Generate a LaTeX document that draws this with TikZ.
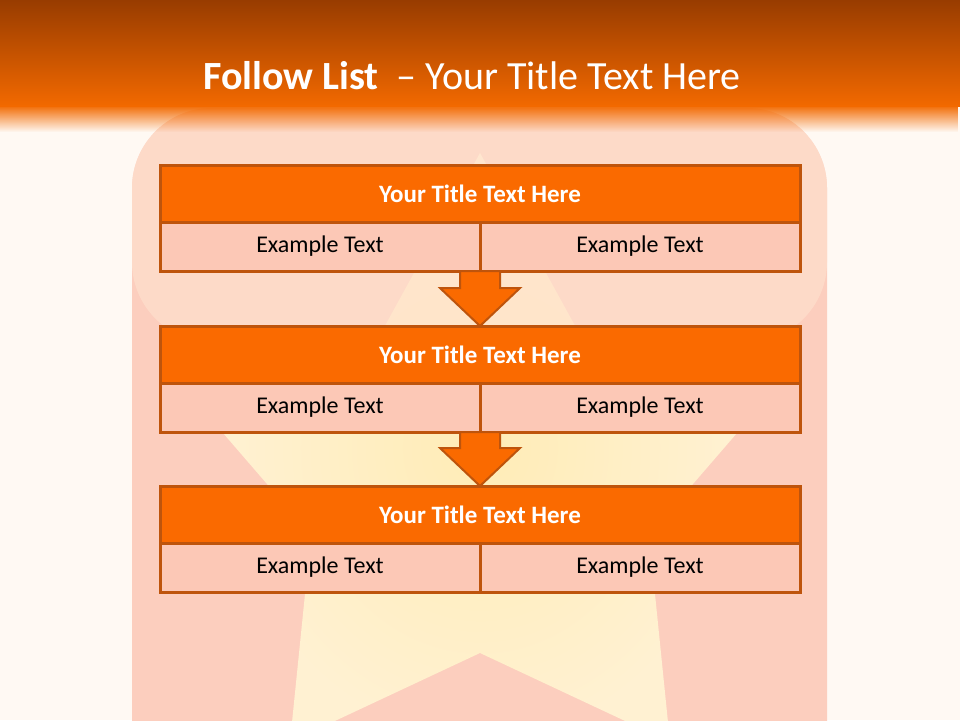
\documentclass[tikz,border=0pt]{standalone}
\usepackage{fontspec}
\setmainfont{Carlito}
\usetikzlibrary{positioning,calc,fadings}

\definecolor{pagecream}{RGB}{255,249,243}
\definecolor{headdark}{RGB}{152,60,0}
\definecolor{headorange}{RGB}{242,105,0}
\definecolor{panelpeach}{RGB}{252,206,190}
\definecolor{glosspeach}{RGB}{255,225,206}
\definecolor{starglow}{RGB}{255,236,182}
\definecolor{starcream}{RGB}{255,241,210}
\definecolor{titleorange}{RGB}{250,106,0}
\definecolor{rimbrown}{RGB}{190,84,12}
\definecolor{rowpeach}{RGB}{252,200,182}

\tikzfading[name=headfade, top color=transparent!0, bottom color=transparent!100]

\tikzset{
  titlerow/.style={draw=rimbrown, line width=3pt, fill=titleorange, minimum width=640pt,
    minimum height=57pt, inner sep=0pt, outer sep=0pt, text=white,
    font=\fontsize{25}{30}\selectfont\bfseries},
  itemrow/.style={draw=rimbrown, line width=3pt, fill=rowpeach, minimum width=320pt,
    minimum height=49pt, inner sep=0pt, outer sep=0pt, font=\fontsize{24}{29}\selectfont},
  flowarrow/.style={draw=rimbrown, line width=2pt, fill=titleorange, line join=miter}
}

\begin{document}
\begin{tikzpicture}[x=1pt, y=-1pt]
    \useasboundingbox (0,0) rectangle (960,720);
    % background and panel
    \fill[pagecream] (0,0) rectangle (960,720);
    \fill[panelpeach, rounded corners=80pt] (132,760) -- (132,108) -- (827,108) -- (827,760);
    \shade[inner color=starglow, outer color=starcream]
      (480,153) -- (634,433) -- (737,433) -- (649,535) -- (670,742) -- (480,653)
      -- (290,742) -- (311,535) -- (223,433) -- (326,433) -- cycle;
    \fill[glosspeach, fill opacity=0.66, rounded corners=80pt]
      (132,342) -- (132,108) -- (827,108) -- (827,342) -- cycle;
    % header
    \shade[top color=headdark, bottom color=headorange] (0,0) rectangle (960,106);
    \fill[headorange, path fading=headfade] (0,105) rectangle (960,132);
    \node[text=white, font=\fontsize{40}{48}\selectfont] (heading) at (472,76)
      {\textbf{Follow List}\ \ – Your Title Text Here};

    % three steps
    \node[titlerow] (t1) at (480,193.5) {Your Title Text Here};
    \node[itemrow, anchor=north west] (l1) at (t1.south west) {Example Text};
    \node[itemrow, right=0pt of l1] (r1) {Example Text};

    \node[titlerow] (t2) at (480,354.5) {Your Title Text Here};
    \node[itemrow, anchor=north west] (l2) at (t2.south west) {Example Text};
    \node[itemrow, right=0pt of l2] (r2) {Example Text};

    \node[titlerow] (t3) at (480,514.5) {Your Title Text Here};
    \node[itemrow, anchor=north west] (l3) at (t3.south west) {Example Text};
    \node[itemrow, right=0pt of l3] (r3) {Example Text};

    % arrows between steps
    \draw[flowarrow] ($(l1.south east)+(-20,0)$) -- ++(0,17) -- ++(-20,0) -- (t2.north)
      -- ($(l1.south east)+(40,17)$) -- ++(-20,0) -- ++(0,-17) -- cycle;
    \draw[flowarrow] ($(l2.south east)+(-20,0)$) -- ++(0,16) -- ++(-20,0) -- (t3.north)
      -- ($(l2.south east)+(40,16)$) -- ++(-20,0) -- ++(0,-16) -- cycle;
\end{tikzpicture}
\end{document}
